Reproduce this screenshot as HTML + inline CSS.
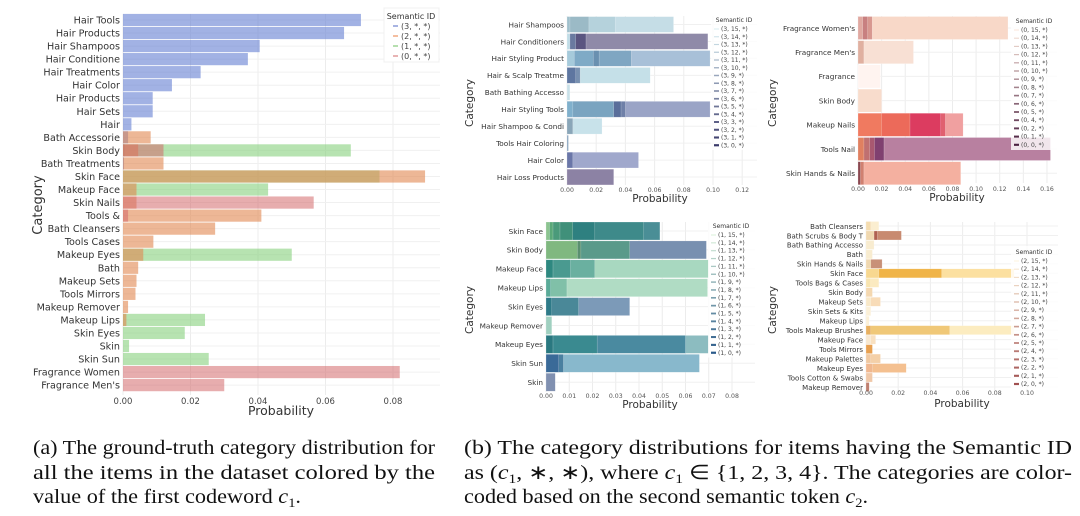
<!DOCTYPE html>
<html><head><meta charset="utf-8"><style>
html,body{margin:0;padding:0;background:#fff;}
svg{display:block;font-family:"DejaVu Sans","Liberation Sans",sans-serif;}
</style></head><body>
<svg id="fig" width="1080" height="516" viewBox="0 0 1080 516" xmlns="http://www.w3.org/2000/svg"></svg>
<script>
// ===== Left chart data =====
const leftCats = ["Hair Tools","Hair Products","Hair Shampoos","Hair Conditione","Hair Treatments","Hair Color","Hair Products","Hair Sets","Hair","Bath Accessorie","Skin Body","Bath Treatments","Skin Face","Makeup Face","Skin Nails","Tools &","Bath Cleansers","Tools Cases","Makeup Eyes","Bath","Makeup Sets","Tools Mirrors","Makeup Remover","Makeup Lips","Skin Eyes","Skin","Skin Sun","Fragrance Women","Fragrance Men's"];
const leftBlue   = [0.0705,0.0655,0.0405,0.037,0.023,0.0145,0.0088,0.0088,0.0025,0.0015,0.0005,0.0003,0,0,0,0,0,0,0,0,0,0,0,0,0,0,0,0,0];
const leftOrange = [0,0,0,0,0,0,0,0,0,0.0082,0.0045,0.012,0.0895,0.004,0.004,0.041,0.0273,0.009,0.006,0.0045,0.004,0.0037,0.0015,0.001,0,0,0,0,0];
const leftGreen  = [0,0,0,0,0,0,0,0,0,0,0.0675,0,0.076,0.043,0,0,0,0,0.050,0,0,0,0,0.0243,0.0183,0.0018,0.0254,0,0];
const leftRed    = [0,0,0,0,0,0,0,0,0,0,0.012,0,0,0,0.0565,0.0015,0,0,0,0,0,0,0,0,0,0,0,0.082,0.030];
const leftTicks  = [0,0.02,0.04,0.06,0.08];
const leftTickLabels = ["0.00","0.02","0.04","0.06","0.08"];
const leftLegend = ["(3, *, *)","(2, *, *)","(1, *, *)","(0, *, *)"];

// ===== Panel c1=3 =====
const p3Cats = ["Hair Shampoos","Hair Conditioners","Hair Styling Product","Hair & Scalp Treatme","Bath Bathing Accesso","Hair Styling Tools","Hair Shampoo & Condi","Tools Hair Coloring","Hair Color","Hair Loss Products"];
const p3Vals = [[0.073,0.033,0.015,0.002],[0.0965,0.013,0.006,0.002],[0.098,0.044,0.022,0.018,0.005],[0.057,0.009,0.006],[0.002],[0.098,0.040,0.037,0.032,0.004],[0.024,0.004],[0.001],[0.049,0.004],[0.032]];
const p3Cols = [["#c5dde6","#b5d2dc","#9bbac6","#a0c0cc"],["#8f8aa8","#5a5580","#6a7aa0","#c0dce6"],["#a8c0d8","#7fa6c2","#6a90b0","#7faac6","#a6cadb"],["#c5e0e8","#7890b0","#5e76a0"],["#c8e0e8"],["#9aa4c6","#6f80a8","#5a6e9a","#7aa4c0","#80b0cc"],["#c8e2ea","#8aa6b8"],["#8aa6c0"],["#a0a8cc","#6a76a8"],["#8c82a4"]];
const p3Ticks = [0,0.02,0.04,0.06,0.08,0.10,0.12];
const p3TickLabels = ["0.00","0.02","0.04","0.06","0.08","0.10","0.12"];

// ===== Panel c1=0 =====
const p0Cats = ["Fragrance Women's","Fragrance Men's","Fragrance","Skin Body","Makeup Nails","Tools Nail","Skin Hands & Nails"];
const p0Vals = [[0.127,0.012,0.008,0.004],[0.047,0.005],[0.019],[0.020],[0.089,0.074,0.070,0.044,0.020],[0.163,0.022,0.014,0.010,0.005],[0.087,0.005,0.002]];
const p0Cols = [["#f8d8c8","#d89890","#c88080","#e0a8a0"],["#f8e0d4","#e0b0a0"],["#fff4f0"],["#f8dccc"],["#f0a0a0","#e06070","#dc3c60","#ec6a5a","#f07a60"],["#b880a0","#804070","#a85870","#c07070","#e08060"],["#f4b0a0","#d08070","#8a4850"]];
const p0Ticks = [0,0.02,0.04,0.06,0.08,0.10,0.12,0.14,0.16];
const p0TickLabels = ["0.00","0.02","0.04","0.06","0.08","0.10","0.12","0.14","0.16"];

// ===== Panel c1=1 =====
const p1Cats = ["Skin Face","Skin Body","Makeup Face","Makeup Lips","Skin Eyes","Makeup Remover","Makeup Eyes","Skin Sun","Skin"];
const p1Vals = [[0.049,0.042,0.021,0.0115,0.006,0.003,0.0015],[0.069,0.036,0.015,0.0135],[0.070,0.021,0.0105,0.003],[0.0695,0.009,0.002],[0.036,0.014,0.0025],[0.0025],[0.070,0.060,0.022,0.003],[0.066,0.0075,0.0055],[0.004]];
const p1Cols = [["#4a8e96","#3e8a8a","#2e8080","#40907a","#4a9a7a","#5aa878","#8cc490"],["#7890b0","#5a9a8a","#5a9070","#80b880"],["#a8d8c0","#6ab0a0","#4a9a90","#2e8880"],["#b0dcc4","#80c0a8","#5aaa98"],["#7c9ab8","#4a8898","#2e7a88"],["#a0d0c0"],["#8cbcc0","#4a8aa0","#3a8a90","#2a7880"],["#88b8cc","#4a80a0","#3a6a98"],["#8090b0"]];
const p1Ticks = [0,0.01,0.02,0.03,0.04,0.05,0.06,0.07,0.08];
const p1TickLabels = ["0.00","0.01","0.02","0.03","0.04","0.05","0.06","0.07","0.08"];

// ===== Panel c1=2 =====
const p2Cats = ["Bath Cleansers","Bath Scrubs & Body T","Bath Bathing Accesso","Bath","Skin Hands & Nails","Skin Face","Tools Bags & Cases","Skin Body","Makeup Sets","Skin Sets & Kits","Makeup Lips","Tools Makeup Brushes","Makeup Face","Tools Mirrors","Makeup Palettes","Makeup Eyes","Tools Cotton & Swabs","Makeup Remover"];
const p2Vals = [[0.008,0.003],[0.022,0.007,0.005],[0.005],[0.004],[0.010,0.003],[0.092,0.047,0.008],[0.008,0.003],[0.004],[0.009,0.003],[0.003],[0.002],[0.092,0.052,0.003],[0.006,0.003],[0.004],[0.009,0.003],[0.025,0.004],[0.004],[0.002]];
const p2Cols = [["#fbeed0","#f4dcb0"],["#c88a70","#b06050","#f0d8b0"],["#f8ecd0"],["#f8ecd0"],["#c89078","#f0d8b0"],["#fce0a0","#f0b448","#f8d890"],["#fbeac0","#f8e4b0"],["#f4d8b0"],["#f8dcb8","#f8e8c8"],["#fbf0d8"],["#fbf0d8"],["#fcecc0","#f0c878","#e8b060"],["#f8e0c0","#f8e8d0"],["#e8a050"],["#f4d0a8","#f0c8a0"],["#f4c090","#f0b890"],["#f0c8a8"],["#c08070"]];
const p2Ticks = [0,0.02,0.04,0.06,0.08,0.10];
const p2TickLabels = ["0.00","0.02","0.04","0.06","0.08","0.10"];

const NS="http://www.w3.org/2000/svg";
const svg=document.getElementById('fig');
function mk(tag,attrs,parent,text){const e=document.createElementNS(NS,tag);for(const k in attrs)e.setAttribute(k,attrs[k]);if(text!==undefined)e.textContent=text;(parent||svg).appendChild(e);return e;}
function hex(c){return [parseInt(c.substr(1,2),16),parseInt(c.substr(3,2),16),parseInt(c.substr(5,2),16)];}
function lerp(a,b,t){const A=hex(a),B=hex(b);return 'rgb('+A.map((v,i)=>Math.round(v+(B[i]-v)*t)).join(',')+')';}

// ---- Left chart ----
(function(){
  const g=mk('g',{});
  
  
  const x0=123,kx=3375,top=14,bot=395,right=440,y0=20,dy=13.04,bh=12.2;
  const X=v=>x0+v*kx, Y=i=>y0+i*dy;
  mk('rect',{x:x0,y:top,width:right-x0,height:bot-top,fill:'#fff'},g);
  leftTicks.forEach(t=>mk('line',{x1:X(t),x2:X(t),y1:top,y2:bot,stroke:'#ececec','stroke-width':1},g));
  leftCats.forEach((c,i)=>mk('line',{x1:x0,x2:right,y1:Y(i),y2:Y(i),stroke:'#f0f0f0','stroke-width':1},g));
  const groups=[[leftBlue,'rgba(105,130,212,0.62)','bar-group-3'],[leftGreen,'rgba(135,208,125,0.6)','bar-group-1'],[leftOrange,'rgba(225,135,80,0.6)','bar-group-2'],[leftRed,'rgba(212,105,108,0.55)','bar-group-0']];
  groups.forEach(([arr,col,nm])=>{
    arr.forEach((v,i)=>{ if(v<=0) return;
      const r=mk('rect',{x:x0,y:Y(i)-bh/2,width:X(v)-x0,height:bh,fill:col},g);
      
      
    });
  });
  leftCats.forEach((c,i)=>{const t=mk('text',{x:x0-3,y:Y(i)+3.5,'font-size':9.6,'text-anchor':'end',fill:'#333'},g,c);
    
    });
  leftTicks.forEach((t,i)=>{const e=mk('text',{x:X(t),y:404,'font-size':8.5,'text-anchor':'middle',fill:'#444'},g,leftTickLabels[i]);
    
    });
  const xl=mk('text',{x:281,y:415,'font-size':12.5,'text-anchor':'middle',fill:'#333'},g,'Probability');
  
  
  const yl=mk('text',{x:0,y:0,'font-size':13,'text-anchor':'middle',fill:'#333',transform:'translate(42,205) rotate(-90)'},g,'Category');
  
  
  const lg=mk('g',{},g);
  
  
  mk('rect',{x:384,y:8,width:55,height:54,fill:'#fff',stroke:'#f0f0f0'},lg);
  mk('text',{x:411,y:19,'font-size':8,'text-anchor':'middle',fill:'#333'},lg,'Semantic ID');
  const lc=['#8a9ad8','#f0a880','#9ed494','#e09a9a'];
  leftLegend.forEach((s,i)=>{
    mk('line',{x1:393,x2:398,y1:26+i*10,y2:26+i*10,stroke:lc[i],'stroke-width':1.5},lg);
    const e=mk('text',{x:401,y:29+i*10,'font-size':8,fill:'#444'},lg,s);
    
    
  });
})();

// ---- Generic panel ----
function panel(o){
  const g=mk('g',{});
  
  
  const X=v=>o.x0+v*o.kx, Y=i=>o.y0+i*o.dy, bh=o.dy*o.fill;
  o.ticks.forEach(t=>mk('line',{x1:X(t),x2:X(t),y1:o.top,y2:o.bot,stroke:'#ececec'},g));
  o.cats.forEach((c,i)=>mk('line',{x1:o.x0,x2:o.right,y1:Y(i),y2:Y(i),stroke:'#f0f0f0'},g));
  o.vals.forEach((row,i)=>{
    row.forEach((v,j)=>{
      const r=mk('rect',{x:o.x0,y:Y(i)-bh/2,width:Math.max(0,X(v)-o.x0),height:bh,fill:o.cols[i][j],stroke:'rgba(255,255,255,0.5)','stroke-width':0.4},g);
      
      
    });
  });
  o.cats.forEach((c,i)=>{const t=mk('text',{x:o.x0-3,y:Y(i)+2.8,'font-size':o.fs,'text-anchor':'end',fill:'#333'},g,c);
    
    });
  o.ticks.forEach((t,i)=>{const e=mk('text',{x:X(t),y:o.tickY,'font-size':6.2,'text-anchor':'middle',fill:'#555'},g,o.tickLabels[i]);
    
    });
  const xl=mk('text',{x:o.xlX,y:o.xlY,'font-size':10.5,'text-anchor':'middle',fill:'#333'},g,'Probability');
  
  
  const yl=mk('text',{x:0,y:0,'font-size':10.5,'text-anchor':'middle',fill:'#333',transform:'translate('+o.ylX+','+o.ylY+') rotate(-90)'},g,'Category');
  
  
  const lg=mk('g',{},g);
  
  
  const n=o.legend.length;
  mk('rect',{x:o.lx-3,y:o.ly-8,width:48,height:10+n*o.ldy+2,fill:'rgba(255,255,255,0.8)'},lg);
  mk('text',{x:o.lx+20,y:o.ly,'font-size':6,'text-anchor':'middle',fill:'#333'},lg,'Semantic ID');
  o.legend.forEach((s,i)=>{
    const y=o.ly+9+i*o.ldy;
    mk('line',{x1:o.lx,x2:o.lx+5,y1:y-2,y2:y-2,stroke:lerp(o.lc[0],o.lc[1],i/(n-1)),'stroke-width':1+i*0.08},lg);
    const e=mk('text',{x:o.lx+7,y:y,'font-size':6,fill:'#444'},lg,s);
    
    
  });
}
function legendList(c,ids){return ids.map(k=>'('+c+', '+k+', *)');}
const ids16=[15,14,13,12,11,10,9,8,7,6,5,4,3,2,1,0];
const ids0=[15,14,13,12,11,10,9,8,7,6,5,4,2,1,0];

panel({name:'panel-c1-3',cats:p3Cats,vals:p3Vals,cols:p3Cols,ticks:p3Ticks,tickLabels:p3TickLabels,x0:567,kx:1460,top:16,bot:185,right:757,y0:24.5,dy:16.95,fill:0.93,fs:7.3,tickY:192,xlX:660,xlY:202,ylX:473,ylY:103,lx:714,ly:22,ldy:7.75,legend:legendList(3,ids16),lc:['#d8eef2','#3a3a6a']});
panel({name:'panel-c1-0',cats:p0Cats,vals:p0Vals,cols:p0Cols,ticks:p0Ticks,tickLabels:p0TickLabels,x0:858,kx:1181,top:16,bot:183,right:1057,y0:28,dy:24.2,fill:0.95,fs:7.3,tickY:191,xlX:957,xlY:201,ylX:776,ylY:103,lx:1014,ly:23,ldy:8.2,legend:legendList(0,ids0),lc:['#fbe6da','#4a2040']});
panel({name:'panel-c1-1',cats:p1Cats,vals:p1Vals,cols:p1Cols,ticks:p1Ticks,tickLabels:p1TickLabels,x0:546,kx:2325,top:222,bot:392,right:755,y0:231,dy:18.9,fill:0.95,fs:7.3,tickY:398,xlX:650,xlY:408,ylX:473,ylY:310,lx:711,ly:228,ldy:7.85,legend:legendList(1,ids16),lc:['#d8f0d8','#2a5a8a']});
panel({name:'panel-c1-2',cats:p2Cats,vals:p2Vals,cols:p2Cols,ticks:p2Ticks,tickLabels:p2TickLabels,x0:866,kx:1610,top:222,bot:392,right:1058,y0:226,dy:9.47,fill:0.95,fs:7,tickY:395,xlX:962,xlY:407,ylX:776,ylY:310,lx:1014,ly:254,ldy:8.2,legend:legendList(2,ids16),lc:['#fdf3dc','#a05050']});

// ---- Captions ----
function cap(x,y,len,parts,nm){
  const t=mk('text',{x:x,y:y,'font-size':20,'font-family':'"Liberation Serif",serif',fill:'#111',textLength:len,lengthAdjust:'spacingAndGlyphs'});
  
  
  parts.forEach(p=>{const s=mk('tspan',p[1]||{},t,p[0]);});
}
cap(33,454,402,[["(a) The ground-truth category distribution for"]],'caption-a-line1');
cap(33,479,402,[["all the items in the dataset colored by the"]],'caption-a-line2');
cap(33,503,268,[["value of the first codeword "],["c",{'font-style':'italic'}],["1",{'font-size':13,dy:4}],[".",{dy:-4}]],'caption-a-line3');
cap(464,454,608,[["(b) The category distributions for items having the Semantic ID"]],'caption-b-line1');
cap(464,479,608,[["as ("],["c",{'font-style':'italic'}],["1",{'font-size':13,dy:4}],[", ∗, ∗), where ",{dy:-4}],["c",{'font-style':'italic'}],["1",{'font-size':13,dy:4}],[" ∈ {1, 2, 3, 4}. The categories are color-",{dy:-4}]],'caption-b-line2');
cap(464,503,404,[["coded based on the second semantic token "],["c",{'font-style':'italic'}],["2",{'font-size':13,dy:4}],[".",{dy:-4}]],'caption-b-line3');
</script>
</body></html>
